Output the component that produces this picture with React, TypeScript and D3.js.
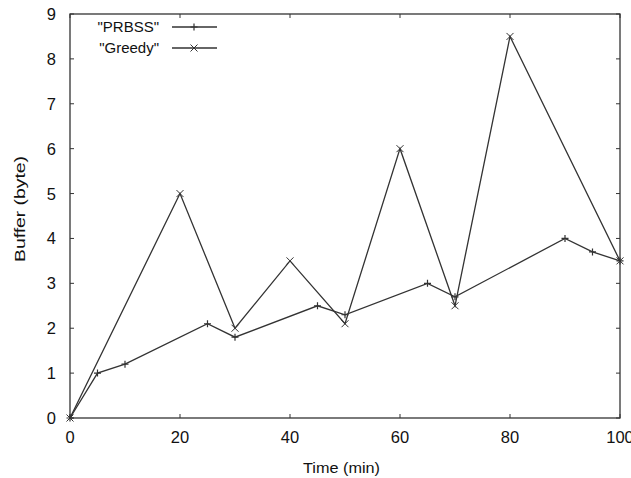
import React from "react";
import * as d3 from "d3";

const prbssX = [0, 5, 10, 25, 30, 45, 50, 65, 70, 90, 95, 100];
const prbssY = [0, 1, 1.2, 2.1, 1.8, 2.5, 2.3, 3.0, 2.7, 4.0, 3.7, 3.5];
const greedyX = [0, 20, 30, 40, 50, 60, 70, 80, 100];
const greedyY = [0, 5, 2, 3.5, 2.1, 6, 2.5, 8.5, 3.5];
const xTicks = [0, 20, 40, 60, 80, 100];
const yTicks = [0, 1, 2, 3, 4, 5, 6, 7, 8, 9];

const W = 631;
const H = 478;
const left = 70, right = 620, top = 14, bottom = 418;
const ink = "#333";
const font = "'Liberation Sans', Arial, sans-serif";

const x = d3.scaleLinear().domain([0, 100]).range([left, right]);
const y = d3.scaleLinear().domain([0, 9]).range([bottom, top]);

const line = d3.line<[number, number]>()
  .x((d) => x(d[0]))
  .y((d) => y(d[1]));

const plus = (cx: number, cy: number, k: string) => (
  <path key={k} d={`M${cx - 3.5},${cy}H${cx + 3.5}M${cx},${cy - 3.5}V${cy + 3.5}`} stroke={ink} strokeWidth={1.2} />
);
const cross = (cx: number, cy: number, k: string) => (
  <path key={k} d={`M${cx - 3.5},${cy - 3.5}L${cx + 3.5},${cy + 3.5}M${cx - 3.5},${cy + 3.5}L${cx + 3.5},${cy - 3.5}`} stroke={ink} strokeWidth={1} />
);

export default function App() {
  const prbss = prbssX.map((v, i) => [v, prbssY[i]] as [number, number]);
  const greedy = greedyX.map((v, i) => [v, greedyY[i]] as [number, number]);

  return (
    <svg width={W} height={H} style={{ position: "absolute", left: 0, top: 0, background: "#fff" }} fontFamily={font}>
      <rect x={0} y={0} width={W} height={H} fill="#fff" />
      {/* ticks */}
      {xTicks.map((t) => (
        <g key={"x" + t}>
          <line x1={x(t)} x2={x(t)} y1={bottom} y2={bottom - 4} stroke={ink} />
          <line x1={x(t)} x2={x(t)} y1={top} y2={top + 4} stroke={ink} />
          <text x={x(t)} y={443} textAnchor="middle" fontSize={16.5} fill="#111">{t}</text>
        </g>
      ))}
      {yTicks.map((t) => (
        <g key={"y" + t}>
          <line x1={left} x2={left + 4} y1={y(t)} y2={y(t)} stroke={ink} />
          <line x1={right} x2={right - 4} y1={y(t)} y2={y(t)} stroke={ink} />
          <text x={56} y={y(t) + 6} textAnchor="end" fontSize={16.5} fill="#111">{t}</text>
        </g>
      ))}
      <rect x={left} y={top} width={right - left} height={bottom - top} fill="none" stroke={ink} strokeWidth={1.3} />

      <text x={341.5} y={473} textAnchor="middle" fontSize={15.5} fill="#111" textLength={77} lengthAdjust="spacingAndGlyphs">Time (min)</text>
      <text transform={`translate(25,209) rotate(-90)`} textAnchor="middle" fontSize={15.5} fill="#111" textLength={106} lengthAdjust="spacingAndGlyphs">Buffer (byte)</text>

      {/* series */}
      <path d={line(greedy) ?? ""} fill="none" stroke={ink} strokeWidth={1.3} />
      <path d={line(prbss) ?? ""} fill="none" stroke={ink} strokeWidth={1.3} />
      {greedy.map((d, i) => cross(x(d[0]), y(d[1]), "g" + i))}
      {prbss.map((d, i) => plus(x(d[0]), y(d[1]), "p" + i))}

      {/* legend */}
      <text x={159} y={32} textAnchor="end" fontSize={15} fill="#111">"PRBSS"</text>
      <line x1={172} x2={217} y1={27} y2={27} stroke={ink} strokeWidth={1.3} />
      {plus(194, 27, "lp")}
      <text x={159} y={53} textAnchor="end" fontSize={15} fill="#111">"Greedy"</text>
      <line x1={172} x2={217} y1={48} y2={48} stroke={ink} strokeWidth={1.3} />
      {cross(194, 48, "lg")}
    </svg>
  );
}
